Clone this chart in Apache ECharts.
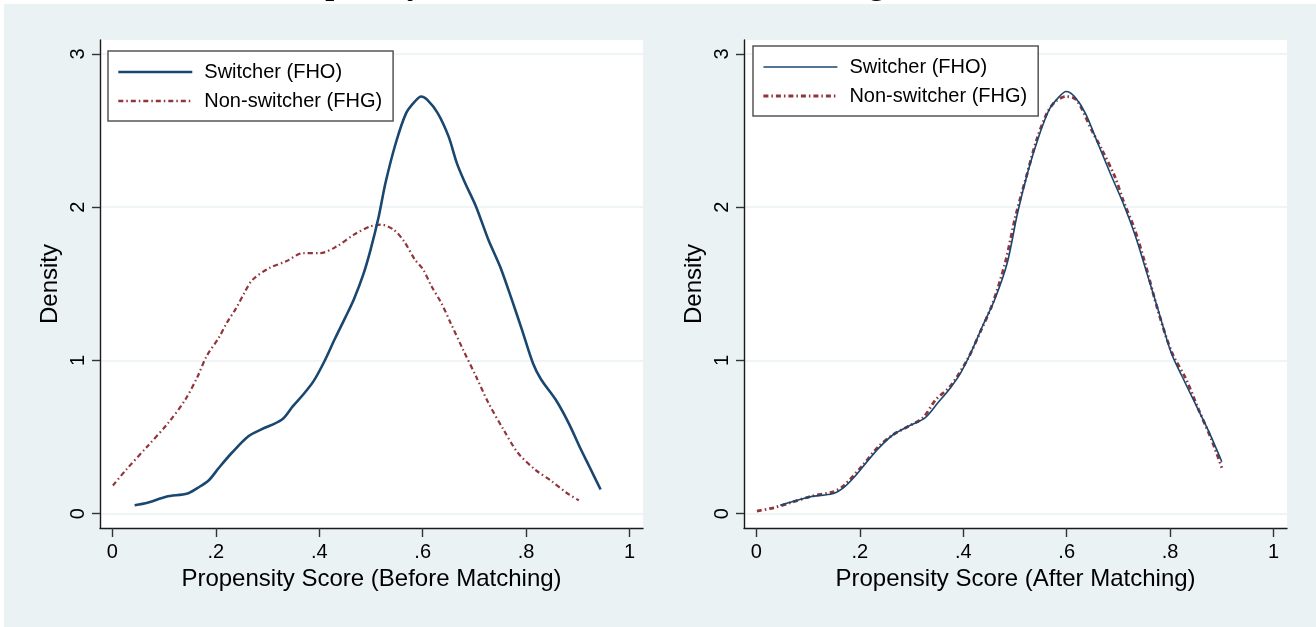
<!DOCTYPE html>
<html>
<head>
<meta charset="utf-8">
<script src="https://cdn.jsdelivr.net/npm/echarts@6/dist/echarts.min.js"></script>
<style>
  html, body { margin: 0; padding: 0; background: #ffffff; }
  #chart { width: 1316px; height: 627px; }
</style>
</head>
<body>
<div id="chart"></div>
<script>
// ---- data (propensity score, density) ----
const titleText = 'Propensity Score Before and After Matching';
const seriesNames = ['Switcher (FHO)', 'Non-switcher (FHG)'];
const xTickValues = [0, 0.2, 0.4, 0.6, 0.8, 1];
const xTickLabels = ['0', '.2', '.4', '.6', '.8', '1'];
const yTickValues = [0, 1, 2, 3];
const yTickLabels = ['0', '1', '2', '3'];
const xTitleBefore = 'Propensity Score (Before Matching)';
const xTitleAfter = 'Propensity Score (After Matching)';
const yTitle = 'Density';

const beforeSwitcher = [
  [0.043, 0.056], [0.068, 0.072], [0.104, 0.111], [0.145, 0.132], [0.165, 0.169],
  [0.186, 0.217], [0.206, 0.300], [0.231, 0.398], [0.263, 0.506], [0.288, 0.550],
  [0.328, 0.615], [0.349, 0.702], [0.369, 0.778], [0.389, 0.865], [0.410, 0.995],
  [0.430, 1.140], [0.450, 1.278], [0.467, 1.400], [0.485, 1.560], [0.499, 1.720],
  [0.515, 1.940], [0.528, 2.158], [0.548, 2.419], [0.568, 2.614], [0.585, 2.690],
  [0.597, 2.722], [0.609, 2.700], [0.629, 2.614], [0.650, 2.462], [0.666, 2.288],
  [0.682, 2.158], [0.703, 2.005], [0.727, 1.788], [0.750, 1.610], [0.772, 1.400],
  [0.792, 1.200], [0.813, 0.984], [0.829, 0.876], [0.857, 0.745], [0.882, 0.593],
  [0.906, 0.419], [0.922, 0.310], [0.944, 0.158]
];
const beforeNonSwitcher = [
  [0.001, 0.184], [0.027, 0.289], [0.068, 0.441], [0.108, 0.593], [0.141, 0.745],
  [0.165, 0.897], [0.182, 1.027], [0.206, 1.150], [0.222, 1.250], [0.239, 1.340],
  [0.255, 1.440], [0.271, 1.527], [0.304, 1.604], [0.336, 1.647], [0.369, 1.701],
  [0.402, 1.701], [0.434, 1.745], [0.467, 1.821], [0.499, 1.875], [0.520, 1.886],
  [0.544, 1.853], [0.564, 1.777], [0.585, 1.658], [0.601, 1.593], [0.617, 1.484],
  [0.636, 1.375], [0.654, 1.245], [0.678, 1.071], [0.703, 0.897], [0.727, 0.724],
  [0.756, 0.550], [0.784, 0.398], [0.817, 0.289], [0.849, 0.213], [0.878, 0.137],
  [0.902, 0.087]
];
const afterSwitcher = [
  [0.046, 0.056], [0.090, 0.098], [0.111, 0.115], [0.147, 0.130], [0.168, 0.169],
  [0.188, 0.235], [0.212, 0.332], [0.237, 0.430], [0.265, 0.517], [0.294, 0.571],
  [0.326, 0.626], [0.351, 0.724], [0.375, 0.821], [0.395, 0.919], [0.416, 1.060],
  [0.438, 1.230], [0.461, 1.400], [0.485, 1.636], [0.505, 1.962], [0.526, 2.244],
  [0.546, 2.462], [0.566, 2.636], [0.583, 2.712], [0.599, 2.755], [0.615, 2.722],
  [0.636, 2.614], [0.660, 2.419], [0.684, 2.223], [0.709, 2.027], [0.733, 1.810],
  [0.755, 1.570], [0.776, 1.340], [0.802, 1.050], [0.823, 0.897], [0.851, 0.702],
  [0.876, 0.528], [0.900, 0.339]
];
const afterNonSwitcher = [
  [0.001, 0.017], [0.033, 0.039], [0.066, 0.072], [0.107, 0.115], [0.147, 0.141],
  [0.168, 0.180], [0.204, 0.310], [0.237, 0.441], [0.265, 0.517], [0.294, 0.571],
  [0.322, 0.626], [0.347, 0.745], [0.375, 0.832], [0.408, 1.006], [0.432, 1.180],
  [0.456, 1.365], [0.481, 1.636], [0.501, 1.940], [0.522, 2.200], [0.542, 2.441],
  [0.562, 2.614], [0.578, 2.690], [0.599, 2.722], [0.619, 2.700], [0.648, 2.505],
  [0.668, 2.375], [0.693, 2.200], [0.711, 2.027], [0.731, 1.860], [0.751, 1.640],
  [0.777, 1.320], [0.803, 1.055], [0.831, 0.876], [0.855, 0.680], [0.880, 0.484],
  [0.900, 0.300]
];

// ---- styling ----
const NAVY = '#1a476f';
const MAROON = '#90353b';
const BG = '#eaf2f3';
const FONT = '"Liberation Sans", Arial, sans-serif';
const DASHDOT = [5, 3, 1.5, 3];
const HIDDEN = { color: 'rgba(0,0,0,0)', borderColor: 'rgba(0,0,0,0)', borderWidth: 0, opacity: 0 };

const chart = echarts.init(document.getElementById('chart'), null, { renderer: 'canvas' });

function xAxisFor(gridIndex, title) {
  return {
    type: 'value', gridIndex: gridIndex,
    min: -0.024, max: 1.026,
    name: title, nameLocation: 'middle', nameGap: 37,
    nameTextStyle: { fontFamily: FONT, fontSize: 24, color: '#000' },
    axisLine: { show: true, onZero: false, lineStyle: { color: '#1a1a1a', width: 1.4 } },
    axisTick: { show: true, length: 9, customValues: xTickValues, lineStyle: { color: '#333', width: 1.4 } },
    axisLabel: {
      customValues: xTickValues, margin: 14, fontFamily: FONT, fontSize: 20, color: '#000',
      formatter: function (v) { const i = xTickValues.findIndex(t => Math.abs(t - v) < 1e-9); return i >= 0 ? xTickLabels[i] : ''; }
    },
    splitLine: { show: false }
  };
}
function yAxisFor(gridIndex) {
  return {
    type: 'value', gridIndex: gridIndex,
    min: -0.093, max: 3.091,
    name: yTitle, nameLocation: 'middle', nameGap: 38,
    nameTextStyle: { fontFamily: FONT, fontSize: 24, color: '#000' },
    axisLine: { show: true, onZero: false, lineStyle: { color: '#1a1a1a', width: 1.4 } },
    axisTick: { show: true, length: 8, customValues: yTickValues, lineStyle: { color: '#333', width: 1.4 } },
    axisLabel: {
      customValues: yTickValues, rotate: 90, margin: 12, fontFamily: FONT, fontSize: 20, color: '#000',
      formatter: function (v) { const i = yTickValues.findIndex(t => Math.abs(t - v) < 1e-9); return i >= 0 ? yTickLabels[i] : ''; }
    },
    splitLine: { show: true, lineStyle: { color: BG, width: 1.6 } }
  };
}
function legendFor(left, top, navyWidth, maroonWidth) {
  return {
    orient: 'vertical', left: left, top: top,
    backgroundColor: '#fff', borderColor: '#555', borderWidth: 1.5, borderRadius: 0,
    padding: [11, 11, 10, 9],
    itemWidth: 74, itemHeight: 20, itemGap: 9,
    textStyle: { fontFamily: FONT, fontSize: 20, color: '#000', padding: [0, 0, 0, 7] },
    selectedMode: false,
    data: [
      { name: seriesNames[0], itemStyle: HIDDEN, lineStyle: { color: NAVY, width: navyWidth, type: 'solid' } },
      { name: seriesNames[1], itemStyle: HIDDEN, lineStyle: { color: MAROON, width: maroonWidth, type: DASHDOT } }
    ]
  };
}
function lineSeries(name, data, xi, color, width, type) {
  return {
    type: 'line', name: name, xAxisIndex: xi, yAxisIndex: xi,
    data: data, showSymbol: false, symbol: 'none', smooth: 0.3,
    lineStyle: { color: color, width: width, type: type },
    itemStyle: { color: color },
    emphasis: { disabled: true }, animation: false
  };
}

const option = {
  backgroundColor: BG,
  animation: false,
  graphic: [
    { type: 'rect', left: 0, top: 0, shape: { width: 1316, height: 4 }, style: { fill: '#fff' }, z: 50, silent: true },
    { type: 'rect', left: 0, top: 0, shape: { width: 4, height: 627 }, style: { fill: '#fff' }, z: 50, silent: true },
    { type: 'text', x: 276, y: 2, z: 60, silent: true,
      style: { text: titleText, font: 'bold 32px "Liberation Serif", "Times New Roman", serif', fill: '#000', verticalAlign: 'bottom' } }
  ],
  grid: [
    { left: 100, top: 40, width: 543, height: 488, show: true, backgroundColor: '#fff', borderWidth: 0 },
    { left: 744, top: 40, width: 543, height: 488, show: true, backgroundColor: '#fff', borderWidth: 0 }
  ],
  xAxis: [xAxisFor(0, xTitleBefore), xAxisFor(1, xTitleAfter)],
  yAxis: [yAxisFor(0), yAxisFor(1)],
  legend: [legendFor(108, 51, 2.6, 2.4), legendFor(753, 46, 1.6, 2.8)],
  series: [
    lineSeries(seriesNames[1], beforeNonSwitcher, 0, MAROON, 2.2, DASHDOT),
    lineSeries(seriesNames[0], beforeSwitcher, 0, NAVY, 2.6, 'solid'),
    lineSeries(seriesNames[1], afterNonSwitcher, 1, MAROON, 2.8, DASHDOT),
    lineSeries(seriesNames[0], afterSwitcher, 1, NAVY, 1.6, 'solid')
  ]
};
chart.setOption(option);
</script>
</body>
</html>
